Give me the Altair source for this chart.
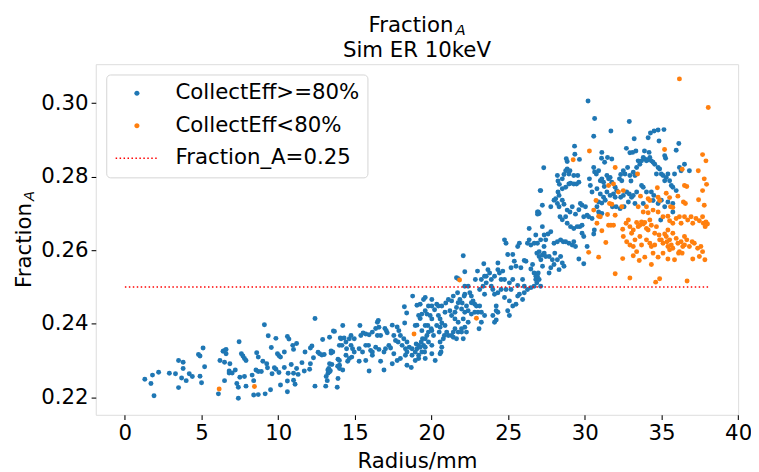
import altair as alt
import pandas as pd

# ---------------- data ----------------
blue_points = [
    (1.3,0.2249),(1.8,0.2260),(1.7,0.2237),(1.9,0.2204),(2.2,0.2268),(2.9,0.2265),(3.3,0.2264),
    (3.5,0.2300),(3.8,0.2295),(3.8,0.2278),(3.7,0.2252),(3.5,0.2226),(4.0,0.2245),(4.2,0.2264),
    (4.4,0.2256),(4.8,0.2316),(4.9,0.2312),(5.1,0.2334),(4.9,0.2257),(5.0,0.2239),(5.2,0.2283),
    (6.2,0.2300),(6.1,0.2209),(6.5,0.2245),(6.4,0.2325),(6.5,0.2327),(6.6,0.2330),(6.6,0.2318),
    (6.5,0.2295),(6.85,0.2291),(6.8,0.2266),(6.8,0.2271),(7.0,0.2266),(7.2,0.2274),(7.45,0.2351),
    (7.6,0.2318),(7.7,0.2312),(7.8,0.2305),(7.9,0.2300),(7.5,0.2254),(7.8,0.2256),(7.3,0.2237),
    (7.4,0.2227),(7.4,0.2197),(7.9,0.2230),(8.4,0.2206),(8.7,0.2207),(9.15,0.2209),(9.5,0.2220),
    (8.3,0.2260),(8.4,0.2245),(8.6,0.2321),(8.7,0.2309),(8.55,0.2274),(8.7,0.2270),(8.9,0.2270),
    (9.0,0.2298),(9.1,0.2397),(9.25,0.2291),(9.3,0.2280),(9.35,0.2367),(9.55,0.2335),(9.6,0.2264),
    (9.75,0.2280),(9.85,0.2360),(9.95,0.2318),(10.05,0.2313),(10.15,0.2309),(9.85,0.2276),
    (10.05,0.2267),(10.15,0.2233),(10.6,0.2215),(10.6,0.2244),(10.4,0.2281),(10.4,0.2323),
    (10.6,0.2365),(10.7,0.2358),(10.95,0.2341),(11.2,0.2346),(11.0,0.2330),(10.85,0.2289),
    (11.0,0.2265),(11.2,0.2278),(11.3,0.2262),(11.0,0.2246),(11.1,0.2235),(10.65,0.2265),
    (11.55,0.2294),(11.7,0.2271),(11.75,0.2323),(12.1,0.2291),(12.05,0.2276),(12.1,0.2334),
    (12.2,0.2339),(12.4,0.2414),(12.3,0.2307),(12.4,0.2230),(12.6,0.2322),(12.7,0.2318),
    (12.85,0.2315),(13.0,0.2316),(12.9,0.2357),(13.1,0.2230),(13.2,0.2245),(13.25,0.2265),
    (13.3,0.2278),(13.4,0.2272),(13.35,0.2363),(13.45,0.2326),(13.6,0.2380),(13.5,0.2289),
    (13.85,0.2227),(13.9,0.2251),(13.9,0.2303),(14.0,0.2287),(14.0,0.2278),(14.05,0.2361),
    # 13 - 27 mm
    (13.24,0.2274),(13.35,0.2291),(13.45,0.2320),(13.56,0.2323),(13.67,0.2379),(14.21,0.2395),
    (14.1,0.2359),(14.3,0.2361),(14.42,0.2350),(14.16,0.2341),(14.46,0.2332),(14.64,0.2359),
    (14.75,0.2341),(14.85,0.2332),(14.96,0.2323),(14.8,0.2309),(13.99,0.2300),(14.53,0.2298),
    (13.88,0.2284),(14.21,0.2274),(13.35,0.2269),(13.13,0.2256),(15.33,0.2395),(15.39,0.2368),
    (15.54,0.2375),(15.71,0.2372),(15.93,0.2370),(15.28,0.2298),(15.71,0.2300),(15.89,0.2341),
    (16.03,0.2327),(16.14,0.2314),(15.93,0.2271),(16.36,0.2387),(16.47,0.2404),(16.53,0.2409),
    (16.47,0.2368),(16.36,0.2336),(16.57,0.2330),(16.68,0.2298),(16.9,0.2274),(16.96,0.2387),
    (17.05,0.2381),(17.11,0.2375),(17.22,0.2341),(17.33,0.2334),(17.44,0.2396),(17.54,0.2368),
    (17.65,0.2354),(17.76,0.2391),(17.87,0.2381),(17.97,0.2368),(17.82,0.2350),(18.08,0.2341),
    (18.19,0.2359),(18.3,0.2332),(18.4,0.2350),(18.25,0.2402),(18.38,0.2429),(17.54,0.2318),
    (17.97,0.2305),(18.4,0.2323),(18.55,0.2336),(18.68,0.2281),(18.94,0.2395),(19.05,0.2396),
    (19.0,0.2345),(19.05,0.2332),(19.16,0.2422),(19.26,0.2414),(19.37,0.2381),(19.41,0.2359),
    (19.16,0.2341),(19.33,0.2350),(19.48,0.2341),(19.55,0.2323),(19.59,0.2336),(19.7,0.2368),
    (19.76,0.2395),(18.77,0.2475),(19.05,0.2450),(19.26,0.2453),(19.59,0.2435),(19.7,0.2426),
    (19.8,0.2448),(19.91,0.2422),(20.02,0.2413),(19.98,0.2386),(20.13,0.2368),(20.2,0.2438),
    (20.34,0.2453),(20.45,0.2448),(20.56,0.2413),(20.67,0.2402),(20.56,0.2390),(20.5,0.2377),
    (20.56,0.2350),(20.62,0.2323),(20.84,0.2368),(20.88,0.2395),(20.88,0.2431),(20.93,0.2456),
    (21.1,0.2466),(21.31,0.2462),(21.42,0.2475),(21.2,0.2435),(21.31,0.2422),(21.53,0.2413),
    (21.53,0.2386),(21.42,0.2363),(21.63,0.2359),(21.7,0.2484),(21.63,0.2525),(21.74,0.2522),
    (22.07,0.2585),(21.85,0.2466),(22.0,0.2456),(22.13,0.2475),(21.96,0.2440),(22.17,0.2431),
    (22.28,0.2448),(22.07,0.2413),(22.39,0.2404),(22.17,0.2390),(22.28,0.2377),(21.96,0.2386),
    (22.17,0.2541),(22.39,0.2502),(22.5,0.2484),(22.6,0.2475),(22.71,0.2462),(22.82,0.2453),
    (22.93,0.2448),(23.03,0.2431),(23.1,0.2386),(23.25,0.2404),(23.0,0.2543),(22.86,0.2520),
    (23.14,0.2493),(23.25,0.2520),(23.36,0.2502),(23.46,0.2480),(23.57,0.2529),(23.68,0.2547),
    (23.79,0.2538),(23.9,0.2520),(24.0,0.2493),(24.11,0.2480),(24.22,0.2448),(24.33,0.2431),
    (24.11,0.2404),(24.22,0.2410),(24.33,0.2565),(24.43,0.2538),(24.54,0.2520),(24.65,0.2543),
    (24.76,0.2628),(24.86,0.2619),(24.97,0.2588),(25.08,0.2511),(25.19,0.2493),(25.3,0.2520),
    (25.4,0.2570),(25.51,0.2556),(25.62,0.2610),(25.73,0.2619),(25.83,0.2552),(25.94,0.2520),
    (26.05,0.2502),(26.16,0.2570),(26.26,0.2619),(26.37,0.2628),(26.48,0.2614),(26.59,0.2561),
    (26.69,0.2538),(26.8,0.2520),(26.91,0.2529),(27.02,0.2583),(27.12,0.2628),(27.23,0.2664),
    (27.34,0.2610),(26.91,0.2704),(27.02,0.2700),(27.12,0.2762),(27.23,0.2722),(26.37,0.2659),
    (26.8,0.2641),(26.91,0.2619),(25.3,0.2588),(26.05,0.2572),(25.19,0.2552),(26.48,0.2549),
    (26.69,0.2502),(27.12,0.2502),(26.26,0.2493),(26.48,0.2498),(25.62,0.2504),(25.73,0.2480),
    (25.94,0.2466),(26.05,0.2484),(25.08,0.2462),(25.3,0.2448),(25.51,0.2453),(25.62,0.2475),
    (24.97,0.2435),(25.08,0.2422),(24.76,0.2471),(24.54,0.2493),(24.33,0.2484),(24.86,0.2493),
    (24.76,0.2520),(24.11,0.2529),(24.33,0.2547),(23.46,0.2529),(23.41,0.2563),(23.57,0.2511),
    (23.9,0.2502),(23.14,0.2448),(23.25,0.2431),(23.46,0.2422),(24.0,0.2422),(24.22,0.2435),
    (22.82,0.2431),(22.6,0.2426),(22.39,0.2435),(22.6,0.2457),(22.17,0.2502),(22.17,0.2480),
    (21.74,0.2457),(21.63,0.2444),(21.74,0.2404),(21.31,0.2368),(21.1,0.2368),(20.99,0.2377),
    (20.77,0.2359),(20.67,0.2336),(20.45,0.2422),(20.34,0.2395),(19.59,0.2395),(19.8,0.2377),
    (20.02,0.2381),(19.59,0.2359),(19.26,0.2336),(18.94,0.2323),(18.73,0.2332),(16.68,0.2368),
    (16.57,0.2390),(16.14,0.2377),(15.5,0.2323),(15.28,0.2332),(14.64,0.2305),(14.42,0.2314),
    (13.99,0.2341),(14.75,0.2368),(14.96,0.2359),(17.44,0.2291),(17.76,0.2300),(18.4,0.2287),
    (18.94,0.2300),(19.16,0.2305),(19.59,0.2305),(20.02,0.2318),(20.56,0.2318),(19.8,0.2350),
    (20.02,0.2341),(20.24,0.2300),(18.3,0.2314),(18.73,0.2314),(19.16,0.2314),(19.37,0.2323),
    (17.0,0.2332),(16.9,0.2323),(15.71,0.2341),(16.14,0.2323),(20.67,0.2448),(20.02,0.2448),
    (19.37,0.2426),(18.23,0.2446),(19.48,0.2466),(19.59,0.2471),(20.02,0.2466),(21.53,0.2431),
    (21.96,0.2377),(22.07,0.2359),(21.74,0.2377),(21.42,0.2377),
    # 27 - 38 mm
    (30.21,0.3006),(30.64,0.2958),(30.58,0.2910),(32.9,0.2950),(31.7,0.2924),(33.22,0.2903),
    (34.13,0.2906),(34.28,0.2919),(34.52,0.2924),(34.78,0.2927),(35.16,0.2928),(34.84,0.2897),
    (36.13,0.2890),(35.96,0.2872),(32.71,0.2877),(32.94,0.2865),(33.12,0.2866),(33.33,0.2870),
    (33.89,0.2870),(34.19,0.2866),(35.21,0.2857),(35.27,0.2850),(31.11,0.2866),(31.09,0.2850),
    (31.29,0.2839),(31.48,0.2852),(31.76,0.2848),(29.33,0.2883),(29.35,0.2861),(28.79,0.2849),
    (28.85,0.2841),(29.65,0.2847),(27.32,0.2824),(27.09,0.2762),(26.96,0.2704),(26.92,0.2698),
    (27.78,0.2718),(27.99,0.2736),(28.1,0.2740),(28.21,0.2803),(28.25,0.2788),(28.34,0.2779),
    (28.53,0.2794),(28.64,0.2806),(28.75,0.2816),(28.85,0.2821),(28.96,0.2807),(29.03,0.2816),
    (29.28,0.2803),(29.54,0.2803),(28.25,0.2758),(28.32,0.2749),(28.53,0.2767),(28.75,0.2771),
    (28.96,0.2780),(29.07,0.2782),(29.28,0.2780),(29.46,0.2780),(29.61,0.2785),(28.21,0.2727),
    (28.32,0.2718),(28.53,0.2736),(28.64,0.2725),(28.85,0.2709),(29.03,0.2704),(29.18,0.2718),
    (29.39,0.2698),(29.61,0.2710),(29.71,0.2727),(29.82,0.2722),(30.04,0.2718),(28.38,0.2691),
    (28.53,0.2683),(28.75,0.2691),(28.85,0.2673),(29.07,0.2664),(29.28,0.2659),(29.67,0.2664),
    (29.82,0.2668),(29.93,0.2691),(30.15,0.2695),(30.25,0.2691),(30.47,0.2686),(27.35,0.2641),
    (27.45,0.2628),(27.6,0.2644),(27.78,0.2650),(27.99,0.2619),(28.21,0.2623),(28.42,0.2628),
    (28.59,0.2623),(28.75,0.2623),(28.96,0.2619),(29.18,0.2614),(29.28,0.2623),(29.39,0.2610),
    (29.5,0.2664),(26.7,0.2619),(26.87,0.2592),(27.02,0.2596),(27.24,0.2587),(27.35,0.2592),
    (27.45,0.2583),(27.67,0.2583),(27.88,0.2574),(28.04,0.2592),(28.21,0.2574),(28.42,0.2583),
    (28.53,0.2565),(28.64,0.2556),(28.32,0.2547),(27.99,0.2561),(27.78,0.2552),(27.67,0.2538),
    (27.13,0.2574),(27.24,0.2556),(26.96,0.2538),(26.81,0.2529),(27.02,0.2520),(26.87,0.2511),
    (29.61,0.2576),(29.93,0.2563),(30.15,0.2610),(29.82,0.2646),(29.93,0.2637),(30.58,0.2644),
    (30.62,0.2655),(30.3,0.2794),(30.36,0.2776),(30.47,0.2758),(30.58,0.2825),(30.64,0.2813),
    (30.75,0.2807),(30.9,0.2816),(31.01,0.2789),(31.11,0.2794),(31.22,0.2785),(31.27,0.2773),
    (31.44,0.2803),(31.55,0.2794),(31.65,0.2798),(31.76,0.2785),(31.98,0.2771),(32.08,0.2762),
    (32.26,0.2794),(32.34,0.2806),(32.41,0.2789),(32.51,0.2816),(32.62,0.2807),(32.79,0.2825),
    (32.94,0.2803),(33.01,0.2788),(33.16,0.2812),(33.27,0.2803),(33.38,0.2825),(33.48,0.2843),
    (33.59,0.2834),(33.7,0.2843),(33.81,0.2852),(33.91,0.2848),(34.02,0.2843),(34.13,0.2846),
    (34.24,0.2852),(34.34,0.2843),(34.45,0.2839),(34.56,0.2834),(34.67,0.2807),(34.78,0.2825),
    (34.88,0.2821),(34.99,0.2807),(35.1,0.2803),(35.21,0.2789),(35.31,0.2798),(35.42,0.2807),
    (35.53,0.2789),(35.64,0.2776),(35.74,0.2771),(35.85,0.2807),(35.96,0.2762),(36.17,0.2825),
    (36.28,0.2816),(36.5,0.2834),(36.82,0.2816),(30.79,0.2767),(31.01,0.2753),(31.22,0.2744),
    (31.44,0.2758),(31.65,0.2749),(31.87,0.2753),(31.98,0.2744),(32.34,0.2744),(32.51,0.2749),
    (32.73,0.2758),(32.9,0.2753),(33.05,0.2744),(33.16,0.2749),(33.38,0.2758),(33.7,0.2776),
    (33.81,0.2771),(34.02,0.2758),(34.34,0.2758),(34.5,0.2749),(34.78,0.2727),(34.99,0.2736),
    (35.21,0.2718),(35.42,0.2731),(35.74,0.2727),(30.9,0.2731),(31.11,0.2728),(31.33,0.2736),
    (31.8,0.2718),(32.04,0.2718),(32.3,0.2713),(32.56,0.2718),(32.84,0.2731),(33.27,0.2727),
    (33.81,0.2727),(34.45,0.2735),(30.79,0.2718),(30.9,0.2704),(31.11,0.2700),(34.95,0.2682),
    (35.74,0.2704),
]

orange_points = [
    (6.15,0.2222),(8.45,0.2229),(18.86,0.2372),(21.83,0.2519),(22.93,0.2415),
    (36.17,0.3066),(38.05,0.2988),(30.3,0.2870),(29.24,0.2846),(35.2,0.2874),(37.68,0.2860),
    (37.9,0.2843),(31.98,0.2825),(36.35,0.2820),(37.4,0.2816),(33.44,0.2807),(31.55,0.2776),
    (31.87,0.2780),(32.51,0.2762),(32.19,0.2758),(37.79,0.2794),(37.94,0.2779),(36.5,0.2776),
    (36.65,0.2773),(34.73,0.2770),(37.68,0.2762),(35.31,0.2755),(35.53,0.2743),(36.07,0.2747),
    (37.42,0.2737),(33.63,0.2747),(34.13,0.2740),(34.24,0.2735),(30.73,0.2735),(34.78,0.2744),
    (34.88,0.2735),(31.61,0.2727),(31.76,0.2725),(36.43,0.2731),(36.56,0.2727),(35.59,0.2718),
    (35.74,0.2716),(37.79,0.2722),(30.58,0.2709),(30.9,0.2692),(31.01,0.2691),(31.48,0.2697),
    (31.98,0.2695),(32.41,0.2718),(33.48,0.2718),(33.81,0.2704),(34.02,0.2718),(34.13,0.2702),
    (34.45,0.2709),(34.78,0.2704),(35.1,0.2691),(35.42,0.2692),(35.53,0.2680),(35.74,0.2673),
    (35.96,0.2686),(36.17,0.2691),(36.28,0.2673),(36.5,0.2691),(36.71,0.2682),(36.93,0.2691),
    (37.04,0.2673),(37.25,0.2686),(37.47,0.2680),(37.68,0.2691),(37.73,0.2673),(37.9,0.2677),
    (38.0,0.2671),(37.85,0.2664),(30.79,0.2673),(31.11,0.2653),(31.55,0.2668),(31.7,0.2668),
    (31.87,0.2668),(32.47,0.2657),(32.69,0.2673),(32.84,0.2682),(32.94,0.2664),(33.05,0.2646),
    (33.16,0.2655),(33.27,0.2628),(33.38,0.2675),(33.48,0.2664),(33.59,0.2668),(33.7,0.2677),
    (33.81,0.2671),(33.91,0.2675),(34.02,0.2659),(34.13,0.2655),(34.24,0.2682),(34.34,0.2668),
    (34.56,0.2646),(34.67,0.2664),(34.84,0.2641),(34.99,0.2628),(35.21,0.2644),(35.31,0.2637),
    (35.42,0.2655),(35.53,0.2628),(35.64,0.2614),(35.74,0.2646),(35.96,0.2632),(36.07,0.2619),
    (36.28,0.2623),(36.39,0.2610),(36.5,0.2637),(36.65,0.2628),(36.82,0.2610),(37.0,0.2623),
    (37.14,0.2619),(37.36,0.2605),(37.57,0.2610),(37.68,0.2596),(32.51,0.2637),(32.73,0.2623),
    (32.94,0.2614),(33.16,0.2610),(33.38,0.2596),(33.59,0.2637),(33.7,0.2614),(34.02,0.2628),
    (34.24,0.2619),(34.34,0.2610),(34.56,0.2614),(34.88,0.2628),(35.1,0.2619),(35.36,0.2623),
    (35.42,0.2610),(35.53,0.2601),(35.74,0.2605),(36.17,0.2596),(36.35,0.2592),(36.5,0.2614),
    (30.25,0.2594),(31.37,0.2621),(30.9,0.2581),(32.47,0.2577),(33.16,0.2585),(33.55,0.2572),
    (33.91,0.2581),(34.34,0.2561),(34.45,0.2592),(34.78,0.2581),(35.1,0.2592),(35.42,0.2576),
    (35.85,0.2574),(36.11,0.2592),(37.04,0.2576),(37.83,0.2574),(37.47,0.2583),(31.98,0.2536),
    (32.94,0.2524),(34.62,0.2513),(34.88,0.2522),(36.67,0.2516),
]

series_labels = ["CollectEff>=80%", "CollectEff<80%", "Fraction_A=0.25"]
series_colors = ["#1f77b4", "#ff7f0e", "#ff0000"]
threshold_x = [0.0, 38.05]
threshold_y = 0.25
x_ticks = [0, 5, 10, 15, 20, 25, 30, 35, 40]
y_ticks = [0.22, 0.24, 0.26, 0.28, 0.30]
x_domain = [-1.9, 40.0]
y_domain = [0.2152, 0.3106]

FONT = "DejaVu Sans"
FS = 21.5
W, H = 649.3, 354.4
LW = 1.07

# ---------------- frames ----------------
pts = pd.DataFrame(
    [{"r": x, "f": y, "series": series_labels[0]} for x, y in blue_points]
    + [{"r": x, "f": y, "series": series_labels[1]} for x, y in orange_points]
)
rule_df = pd.DataFrame({"x": [threshold_x[0]], "x2": [threshold_x[1]], "y": [threshold_y]})
legend_df = pd.DataFrame({"series": series_labels, "r": [0, 0, 0], "f": [0.25, 0.25, 0.25], "keep": [0, 0, 0]})

xs = alt.Scale(domain=x_domain, nice=False, zero=False)
ys = alt.Scale(domain=y_domain, nice=False, zero=False)

x_axis = alt.Axis(values=x_ticks, title="Radius/mm", grid=False, domain=False,
                  labelFont=FONT, labelFontSize=FS, labelColor="black", labelPadding=3,
                  tickColor="black", tickSize=4.7, tickWidth=LW, labelFlush=False,
                  titleFont=FONT, titleFontSize=FS, titleFontWeight="normal",
                  titleColor="black", titlePadding=7)
y_axis = alt.Axis(values=y_ticks, format=".2f", title=None, grid=False, domain=False,
                  labelFont=FONT, labelFontSize=FS, labelColor="black", labelPadding=3,
                  tickColor="black", tickSize=4.7, tickWidth=LW, labelFlush=False)

points = alt.Chart(pts).mark_circle(size=25, opacity=1).encode(
    x=alt.X("r:Q", scale=xs, axis=x_axis),
    y=alt.Y("f:Q", scale=ys, axis=y_axis),
    color=alt.Color("series:N", scale=alt.Scale(domain=series_labels[:2], range=series_colors[:2]),
                    legend=None),
)

rule = alt.Chart(rule_df).mark_rule(color="red", strokeWidth=1.5, strokeDash=[1.5, 2.5]).encode(
    x=alt.X("x:Q", scale=xs), x2="x2:Q", y=alt.Y("y:Q", scale=ys)
)

# legend symbols (custom paths; symbol unit = 11 px)
u = 11.0
rc = 2.6 / u
circ = f"M{rc:.3f},0A{rc:.3f},{rc:.3f},0,1,1,{-rc:.3f},0A{rc:.3f},{rc:.3f},0,1,1,{rc:.3f},0Z"
segs = []
s = -21.5
while s < 21.5:
    a, b = s / u, min(s + 1.5, 21.5) / u
    segs.append(f"M{a:.3f},-0.07H{b:.3f}V0.07H{a:.3f}Z")
    s += 4.0
dash = "".join(segs)

leg = alt.Legend(orient="none", legendX=10.6, legendY=10.4, title=None,
                 labelFont=FONT, labelFontSize=FS, labelColor="black", labelLimit=600,
                 symbolSize=484, symbolStrokeWidth=0, padding=8, rowPadding=10.8,
                 labelOffset=28, symbolOffset=12,
                 strokeColor="#d5d5d5", fillColor="white", cornerRadius=4)

legend_layer = alt.Chart(legend_df).transform_filter("datum.keep > 0").mark_point(
    filled=True, opacity=1).encode(
    x=alt.X("r:Q", scale=xs),
    y=alt.Y("f:Q", scale=ys),
    color=alt.Color("series:N", scale=alt.Scale(domain=series_labels, range=series_colors), legend=leg),
    shape=alt.Shape("series:N", scale=alt.Scale(domain=series_labels, range=[circ, circ, dash]), legend=leg),
)

def txt(t, x, y, size=FS, style="normal", angle=0, align="left"):
    return alt.Chart(pd.DataFrame({"t": [t]})).mark_text(
        font=FONT, fontSize=size, fontStyle=style, color="black", angle=angle,
        align=align, baseline="alphabetic").encode(x=alt.value(x), y=alt.value(y), text="t:N")

titles = [
    txt("Fraction", 275.8, -32.3),
    txt("A", 363.6, -29.0, size=15, style="italic"),
    txt("Sim ER 10keV", W / 2, -7.6, align="center"),
    txt("Fraction", -65.7, 226.1, angle=270),
    txt("A", -62.0, 138.3, size=15, style="italic", angle=270),
]

chart = alt.layer(points, rule, legend_layer, *titles).resolve_scale(
    color="independent", shape="independent"
).properties(
    width=W, height=H,
    autosize=alt.AutoSizeParams(type="none"),
    padding={"left": 88.7, "top": 54.3, "right": 13, "bottom": 56},
).configure_view(stroke="black", strokeWidth=LW).configure(background="white")

chart.save("out.html", embed_options={"renderer": "svg", "actions": False})
